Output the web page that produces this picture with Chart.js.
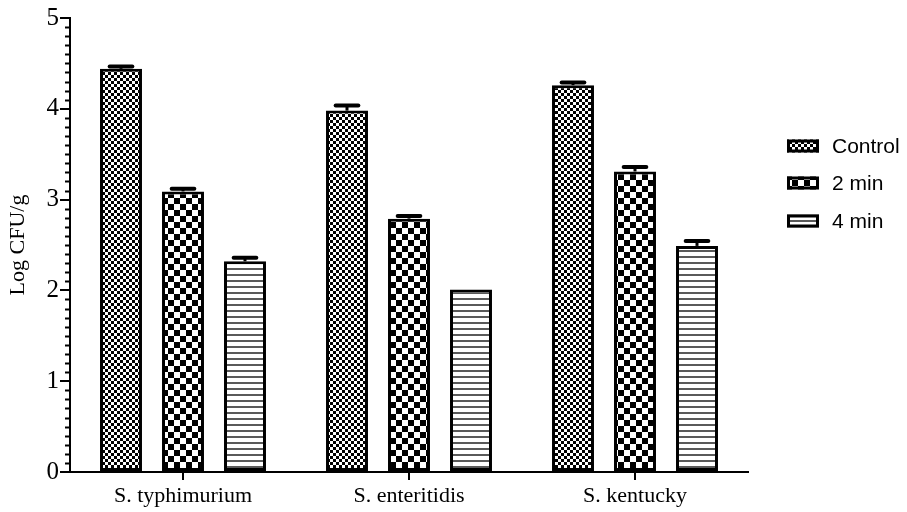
<!DOCTYPE html>
<html>
<head>
<meta charset="utf-8">
<script src="https://cdn.jsdelivr.net/npm/chart.js@4/dist/chart.umd.min.js"></script>
<style>
  html, body { margin: 0; padding: 0; background: #fff; }
  #wrap { width: 907px; height: 512px; }
</style>
</head>
<body>
<div id="wrap"><canvas id="chart" width="907" height="512"></canvas></div>
<script>
// Salmonella counts (Log CFU/g) after treatment time
const strains = ['S. typhimurium', 'S. enteritidis', 'S. kentucky'];
const seriesNames = ['Control', '2 min', '4 min'];
const controlMean = [4.44, 3.98, 4.26];
const controlErr  = [0.025, 0.055, 0.03];
const twoMinMean  = [3.09, 2.79, 3.31];
const twoMinErr   = [0.03, 0.03, 0.05];
const fourMinMean = [2.32, 2.01, 2.49];
const fourMinErr  = [0.04, 0, 0.055];
const yTicks = [0, 1, 2, 3, 4, 5];

// Monochrome fill patterns
function makePattern(size, paint) {
  const c = document.createElement('canvas');
  c.width = size; c.height = size;
  const g = c.getContext('2d');
  g.fillStyle = '#fff';
  g.fillRect(0, 0, size, size);
  g.fillStyle = '#000';
  paint(g, size);
  return document.createElement('canvas').getContext('2d').createPattern(c, 'repeat');
}
const fineChecker = makePattern(6, (g) => {
  g.fillRect(0, 0, 3, 3);
  g.fillRect(3, 3, 3, 3);
});
const coarseChecker = makePattern(12, (g) => {
  g.fillRect(0, 0, 6, 6);
  g.fillRect(6, 6, 6, 6);
});
const stripes = makePattern(6, (g) => {
  g.fillStyle = '#5a5a5a';
  g.fillRect(0, 4, 6, 2);
});

// Error bars (mean + SE) drawn above each bar
const errorBars = {
  id: 'errorBars',
  afterDatasetsDraw(chart) {
    const ctx = chart.ctx;
    const y = chart.scales.y;
    ctx.save();
    ctx.strokeStyle = '#000';
    chart.data.datasets.forEach((ds, di) => {
      const meta = chart.getDatasetMeta(di);
      meta.data.forEach((bar, i) => {
        const err = ds.errors[i];
        if (!err) return;
        const top = y.getPixelForValue(ds.data[i] + err);
        const half = bar.width * 0.27;
        ctx.lineWidth = 3;
        ctx.beginPath();
        ctx.moveTo(bar.x, bar.y);
        ctx.lineTo(bar.x, top);
        ctx.stroke();
        ctx.lineWidth = 4;
        ctx.lineCap = 'round';
        ctx.beginPath();
        ctx.moveTo(bar.x - half, top);
        ctx.lineTo(bar.x + half, top);
        ctx.stroke();
        ctx.lineCap = 'butt';
      });
    });
    ctx.restore();
  }
};

// Minor ticks on the value axis
const minorTicks = {
  id: 'minorTicks',
  afterDraw(chart) {
    const y = chart.scales.y;
    const ctx = chart.ctx;
    const x0 = chart.chartArea.left;
    ctx.save();
    ctx.strokeStyle = '#000';
    ctx.lineWidth = 2;
    for (let k = 0; k <= 50; k++) {
      if (k % 10 === 0) continue;
      const py = Math.round(y.getPixelForValue(k / 10)) + 0.5;
      ctx.beginPath();
      ctx.moveTo(x0 - 5, py);
      ctx.lineTo(x0, py);
      ctx.stroke();
    }
    ctx.restore();
  }
};

// Legend at the right of the plot
const sideLegend = {
  id: 'sideLegend',
  afterDraw(chart) {
    const ctx = chart.ctx;
    const boxX = chart.chartArea.right + 39;
    const rowY = [146, 183, 221];
    ctx.save();
    ctx.font = '21px "Liberation Sans", Arial, sans-serif';
    ctx.textBaseline = 'middle';
    ctx.fillStyle = '#000';
    chart.data.datasets.forEach((ds, i) => {
      const cy = rowY[i];
      ctx.fillStyle = ds.backgroundColor;
      ctx.fillRect(boxX, cy - 6.5, 32, 13);
      ctx.strokeStyle = '#000';
      ctx.lineWidth = 3;
      ctx.strokeRect(boxX + 1.5, cy - 5, 29, 10);
      ctx.fillStyle = '#000';
      ctx.fillText(ds.label, boxX + 45, cy + 1);
    });
    ctx.restore();
  }
};

const datasets = [
  { label: seriesNames[0], data: controlMean, errors: controlErr, backgroundColor: fineChecker },
  { label: seriesNames[1], data: twoMinMean, errors: twoMinErr, backgroundColor: coarseChecker },
  { label: seriesNames[2], data: fourMinMean, errors: fourMinErr, backgroundColor: stripes }
].map(d => Object.assign(d, {
  borderColor: '#000',
  borderWidth: 3,
  borderSkipped: false,
  categoryPercentage: 0.823,
  barPercentage: 0.677
}));

new Chart(document.getElementById('chart'), {
  type: 'bar',
  data: { labels: strains, datasets },
  options: {
    responsive: false,
    animation: false,
    layout: { padding: { top: 18, right: 159, bottom: 0, left: 0 } },
    plugins: {
      legend: { display: false },
      tooltip: { enabled: false }
    },
    scales: {
      x: {
        grid: { display: true, drawOnChartArea: false, offset: false, tickLength: 8, color: '#000', lineWidth: 2 },
        border: { display: true, color: '#000', width: 2 },
        ticks: {
          color: '#000',
          padding: 3,
          font: { family: '"Liberation Serif", "Times New Roman", serif', size: 22 }
        },
        afterFit(s) { s.height = 40; }
      },
      y: {
        min: 0,
        max: 5,
        afterBuildTicks(s) { s.ticks = yTicks.map(v => ({ value: v })); },
        grid: { display: true, drawOnChartArea: false, tickLength: 10, color: '#000', lineWidth: 2 },
        border: { display: true, color: '#000', width: 2 },
        ticks: {
          color: '#000',
          padding: 1,
          font: { family: '"Liberation Serif", "Times New Roman", serif', size: 25 }
        },
        title: {
          display: true,
          text: 'Log CFU/g',
          color: '#000',
          padding: { top: 5, bottom: 0 },
          font: { family: '"Liberation Serif", "Times New Roman", serif', size: 22 }
        },
        afterFit(s) { s.width = 70; }
      }
    }
  },
  plugins: [errorBars, minorTicks, sideLegend]
});
</script>
</body>
</html>
